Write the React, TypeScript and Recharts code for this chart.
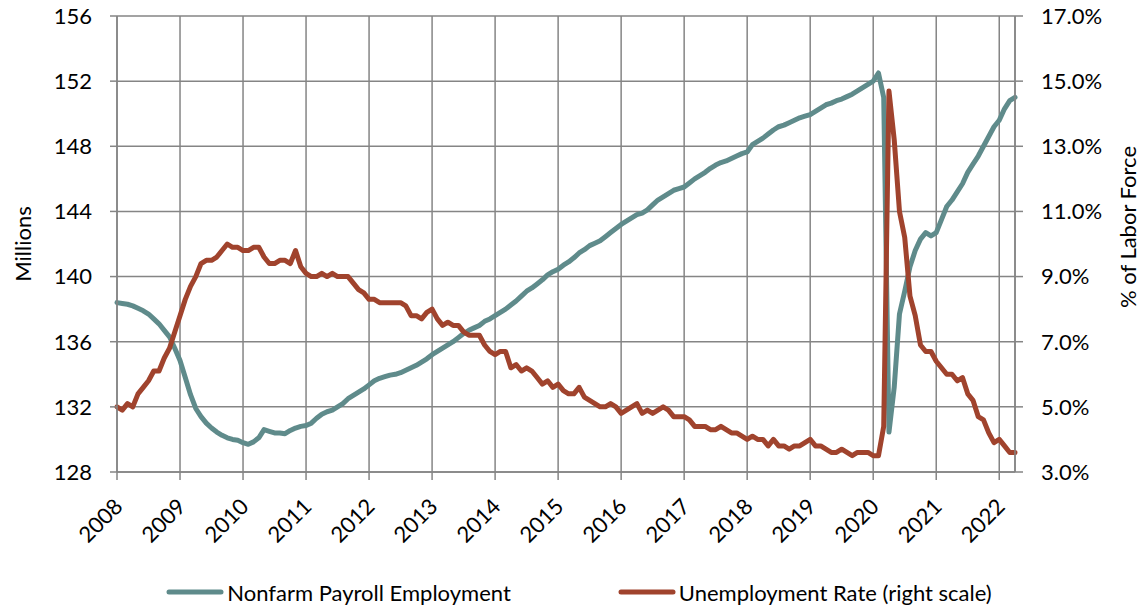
import React from 'react';
import { LineChart, Line, XAxis, YAxis, CartesianGrid, Legend, Label } from 'recharts';

const startYear = 2008;

const payroll = [
  138.4, 138.35, 138.3, 138.2, 138.05, 137.9, 137.7, 137.4, 137.1, 136.7, 136.3, 135.6,
  134.85, 133.8, 132.75, 131.9, 131.4, 131.0, 130.7, 130.45, 130.25, 130.1, 130.0, 129.95,
  129.8, 129.7, 129.85, 130.1, 130.6, 130.5, 130.4, 130.4, 130.35, 130.55, 130.7, 130.8,
  130.85, 131.0, 131.3, 131.55, 131.7, 131.8, 132.0, 132.2, 132.5, 132.7, 132.9, 133.1,
  133.35, 133.6, 133.75, 133.85, 133.95, 134.0, 134.1, 134.25, 134.4, 134.55, 134.75, 134.95,
  135.2, 135.4, 135.6, 135.8, 136.0, 136.25, 136.5, 136.7, 136.85, 137.0, 137.25, 137.4,
  137.6, 137.8, 138.0, 138.25, 138.5, 138.8, 139.1, 139.3, 139.55, 139.8, 140.1, 140.3,
  140.45, 140.7, 140.9, 141.15, 141.45, 141.65, 141.9, 142.05, 142.2, 142.45, 142.7, 142.95,
  143.2, 143.4, 143.6, 143.8, 143.9, 144.1, 144.4, 144.7, 144.9, 145.1, 145.3, 145.4,
  145.5, 145.75, 146.0, 146.2, 146.4, 146.65, 146.85, 147.0, 147.1, 147.25, 147.4, 147.55,
  147.65, 148.1, 148.3, 148.5, 148.75, 149.0, 149.2, 149.3, 149.45, 149.6, 149.75, 149.85,
  149.95, 150.15, 150.35, 150.55, 150.65, 150.8, 150.9, 151.05, 151.2, 151.4, 151.6, 151.8,
  152.0, 152.5, 151.0, 130.45, 133.2, 137.7, 139.1, 140.6, 141.6, 142.3, 142.7, 142.5,
  142.7, 143.5, 144.3, 144.7, 145.2, 145.7, 146.4, 146.9, 147.4, 148.0, 148.6, 149.2,
  149.6, 150.3, 150.8, 151.0,
];

const unemployment = [
  5.0, 4.9, 5.1, 5.0, 5.4, 5.6, 5.8, 6.1, 6.1, 6.5, 6.8, 7.3,
  7.8, 8.3, 8.7, 9.0, 9.4, 9.5, 9.5, 9.6, 9.8, 10.0, 9.9, 9.9,
  9.8, 9.8, 9.9, 9.9, 9.6, 9.4, 9.4, 9.5, 9.5, 9.4, 9.8, 9.3,
  9.1, 9.0, 9.0, 9.1, 9.0, 9.1, 9.0, 9.0, 9.0, 8.8, 8.6, 8.5,
  8.3, 8.3, 8.2, 8.2, 8.2, 8.2, 8.2, 8.1, 7.8, 7.8, 7.7, 7.9,
  8.0, 7.7, 7.5, 7.6, 7.5, 7.5, 7.3, 7.2, 7.2, 7.2, 6.9, 6.7,
  6.6, 6.7, 6.7, 6.2, 6.3, 6.1, 6.2, 6.1, 5.9, 5.7, 5.8, 5.6,
  5.7, 5.5, 5.4, 5.4, 5.6, 5.3, 5.2, 5.1, 5.0, 5.0, 5.1, 5.0,
  4.8, 4.9, 5.0, 5.1, 4.8, 4.9, 4.8, 4.9, 5.0, 4.9, 4.7, 4.7,
  4.7, 4.6, 4.4, 4.4, 4.4, 4.3, 4.3, 4.4, 4.3, 4.2, 4.2, 4.1,
  4.0, 4.1, 4.0, 4.0, 3.8, 4.0, 3.8, 3.8, 3.7, 3.8, 3.8, 3.9,
  4.0, 3.8, 3.8, 3.7, 3.6, 3.6, 3.7, 3.6, 3.5, 3.6, 3.6, 3.6,
  3.5, 3.5, 4.4, 14.7, 13.2, 11.0, 10.2, 8.4, 7.8, 6.9, 6.7, 6.7,
  6.4, 6.2, 6.0, 6.0, 5.8, 5.9, 5.4, 5.2, 4.7, 4.6, 4.2, 3.9,
  4.0, 3.8, 3.6, 3.6,
];

const yearTicks = [2008, 2009, 2010, 2011, 2012, 2013, 2014, 2015, 2016, 2017, 2018, 2019, 2020, 2021, 2022];
const leftTicks = [128, 132, 136, 140, 144, 148, 152, 156];
const rightTicks = [3, 5, 7, 9, 11, 13, 15, 17];

const seriesNames = ['Nonfarm Payroll Employment', 'Unemployment Rate (right scale)'];
const TEAL = '#5F8B8B';
const RED = '#A0432D';
const GRID = '#858585';
const FONT = 'Lato, "Open Sans", sans-serif';

const data = payroll.map((p, i) => ({ t: startYear + i / 12, payroll: p, rate: unemployment[i] }));

const XTick = (props: any) => {
  const { x, y, payload } = props;
  const ax = x + 7;
  const ay = y + 26;
  return (
    <text x={ax} y={ay} textAnchor="end" transform={`rotate(-45, ${ax}, ${ay})`} fontSize={22} fontFamily={FONT} fill="#000">
      {payload.value}
    </text>
  );
};

const LeftLabel = (props: any) => {
  const vb = props.viewBox || { x: 0, y: 0, width: 0, height: 0 };
  const cx = vb.x + 12;
  const cy = vb.y + vb.height / 2;
  return (
    <text x={cx} y={cy} transform={`rotate(-90, ${cx}, ${cy})`} textAnchor="middle" dominantBaseline="central" fontSize={22} fontFamily={FONT} fill="#000">
      Millions
    </text>
  );
};

const RightLabel = (props: any) => {
  const vb = props.viewBox || { x: 0, y: 0, width: 0, height: 0 };
  const cx = vb.x + 112;
  const cy = vb.y + vb.height / 2 - 17;
  return (
    <text x={cx} y={cy} transform={`rotate(-90, ${cx}, ${cy})`} textAnchor="middle" dominantBaseline="central" fontSize={22} fontFamily={FONT} fill="#000">
      % of Labor Force
    </text>
  );
};

const LegendItem = ({ color, label }: { color: string; label: string }) => (
  <div style={{ display: 'flex', alignItems: 'center' }}>
    <svg width={58} height={12} style={{ display: 'block' }}>
      <line x1={3} y1={6} x2={55} y2={6} stroke={color} strokeWidth={5} strokeLinecap="round" />
    </svg>
    <span style={{ marginLeft: 3, whiteSpace: 'nowrap' }}>{label}</span>
  </div>
);

const renderLegend = () => (
  <div
    style={{
      display: 'flex',
      justifyContent: 'center',
      alignItems: 'center',
      height: 30,
      fontFamily: FONT,
      fontSize: 22,
      color: '#000',
      paddingLeft: 15,
      gap: 107,
    }}
  >
    <LegendItem color={TEAL} label={seriesNames[0]} />
    <LegendItem color={RED} label={seriesNames[1]} />
  </div>
);

export default function App() {
  return (
    <div style={{ position: 'absolute', left: 0, top: 0, background: '#fff' }}>
      <LineChart width={1143} height={609} data={data} margin={{ top: 16, right: 10, bottom: 2, left: 10 }}>
        <CartesianGrid yAxisId="left" stroke={GRID} strokeWidth={1.5} />
        <XAxis
          dataKey="t"
          type="number"
          domain={[startYear, startYear + (payroll.length - 1) / 12]}
          ticks={yearTicks}
          interval={0}
          height={105}
          tickSize={8}
          tick={<XTick />}
          axisLine={{ stroke: GRID, strokeWidth: 1.5 }}
          tickLine={{ stroke: GRID, strokeWidth: 1.5 }}
        />
        <YAxis
          yAxisId="left"
          domain={[128, 156]}
          ticks={leftTicks}
          interval={0}
          width={107}
          tickSize={7}
          tickMargin={18}
          tick={{ fontSize: 22, fontFamily: FONT, fill: '#000' }}
          axisLine={{ stroke: GRID, strokeWidth: 1.5 }}
          tickLine={{ stroke: GRID, strokeWidth: 1.5 }}
        >
          <Label content={<LeftLabel />} />
        </YAxis>
        <YAxis
          yAxisId="right"
          orientation="right"
          domain={[3, 17]}
          ticks={rightTicks}
          interval={0}
          width={118}
          tickSize={8}
          tickMargin={18}
          tickFormatter={(v: number) => `${v.toFixed(1)}%`}
          tick={{ fontSize: 22, fontFamily: FONT, fill: '#000' }}
          axisLine={{ stroke: GRID, strokeWidth: 1.5 }}
          tickLine={{ stroke: GRID, strokeWidth: 1.5 }}
        >
          <Label content={<RightLabel />} />
        </YAxis>
        <Legend verticalAlign="bottom" height={30} content={renderLegend} />
        <Line
          yAxisId="left"
          type="linear"
          dataKey="payroll"
          name={seriesNames[0]}
          stroke={TEAL}
          strokeWidth={5}
          dot={false}
          strokeLinejoin="round"
          strokeLinecap="round"
          isAnimationActive={false}
        />
        <Line
          yAxisId="right"
          type="linear"
          dataKey="rate"
          name={seriesNames[1]}
          stroke={RED}
          strokeWidth={5}
          dot={false}
          strokeLinejoin="round"
          strokeLinecap="round"
          isAnimationActive={false}
        />
      </LineChart>
    </div>
  );
}
